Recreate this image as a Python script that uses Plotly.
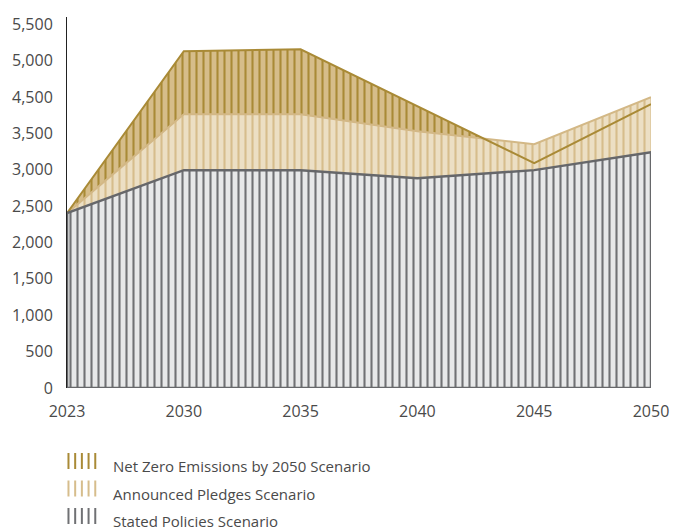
import plotly.graph_objects as go

# ---- data ----
years = ["2023", "2030", "2035", "2040", "2045", "2050"]
nze = [2404, 4629, 4657, 3874, 3091, 3901]      # Net Zero Emissions by 2050 Scenario
aps = [2404, 3764, 3764, 3530, 3352, 3997]      # Announced Pledges Scenario
steps = [2404, 2995, 2995, 2885, 2995, 3242]    # Stated Policies Scenario
tick_vals = [0, 500, 1000, 1500, 2000, 2500, 3000, 3500, 4000, 4500, 5000]
tick_text = ["0", "500", "1,000", "1,500", "2,000", "2,500", "3,000", "3,500", "4,500", "5,000", "5,500"]
series_names = ["Net Zero Emissions by 2050 Scenario", "Announced Pledges Scenario", "Stated Policies Scenario"]

# ---- styles ----
W, H = 681, 530
ML, MR, MT, MB = 67, 21, 17, 142
NZE_FG, NZE_BG = "#a98a36", "#d6bd8a"
APS_FG, APS_BG = "#d6bd8c", "#ecdfc4"
STP_FG, STP_BG = "#707174", "#e7e8e9"
FONT = "Open Sans"
TXT = "#4a4a4a"

fig = go.Figure()

def area(y, fg, bg):
    fig.add_trace(go.Scatter(
        x=years, y=y, mode="lines", line=dict(width=0), fill="tozeroy",
        fillcolor=bg,
        fillpattern=dict(shape="|", size=7, solidity=0.3, fgcolor=fg, bgcolor=bg, fillmode="replace"),
        showlegend=False, hoverinfo="skip"))

area(nze, NZE_FG, NZE_BG)
area(aps, APS_FG, APS_BG)
area(steps, STP_FG, STP_BG)

# outlines
fig.add_trace(go.Scatter(x=years, y=aps, mode="lines", line=dict(color="#d3b886", width=2),
                         showlegend=False, hoverinfo="skip"))
fig.add_trace(go.Scatter(x=years, y=nze, mode="lines", line=dict(color=NZE_FG, width=2),
                         showlegend=False, hoverinfo="skip"))
outline_x = years + [years[-1], years[0], years[0]]
outline_y = steps + [0, 0, steps[0]]
fig.add_trace(go.Scatter(x=outline_x, y=outline_y, mode="lines",
                         line=dict(color="#66676a", width=2.5),
                         showlegend=False, hoverinfo="skip", cliponaxis=False))

# ---- manual legend ----
plot_h = H - MT - MB
plot_w = W - ML - MR
def py(p):
    return (H - MB - p) / plot_h
def px(p):
    return (p - ML) / plot_w

legend_rows = [466, 493.5, 521]
legend_cols = [NZE_FG, APS_FG, STP_FG]
shapes = []
annotations = []
for name, c, yc in zip(series_names, legend_cols, legend_rows):
    for k in range(5):
        x0 = 68.5 + k * 6.8
        shapes.append(dict(type="line", xref="paper", yref="paper",
                           x0=px(x0), x1=px(x0), y0=py(yc - 13), y1=py(yc + 3),
                           line=dict(color=c, width=2)))
    annotations.append(dict(text=name, xref="paper", yref="paper", x=px(112), y=py(yc),
                            xanchor="left", yanchor="middle", showarrow=False,
                            font=dict(family=FONT, size=15, color=TXT)))

fig.update_layout(
    width=W, height=H,
    margin=dict(l=ML, r=MR, t=MT, b=MB),
    paper_bgcolor="white", plot_bgcolor="white",
    shapes=shapes, annotations=annotations,
    font=dict(family=FONT, size=16, color=TXT),
    xaxis=dict(type="category", range=[0, 5], showgrid=False, zeroline=False,
               showline=False, ticks="", ticklabelstandoff=12,
               tickfont=dict(family=FONT, size=16, color=TXT)),
    yaxis=dict(range=[0, 5100], tickvals=tick_vals, ticktext=tick_text,
               showgrid=False, zeroline=False, showline=True, linecolor="#222", linewidth=1,
               ticks="", ticklabelstandoff=10,
               tickfont=dict(family=FONT, size=16, color=TXT)),
    showlegend=False,
)

fig.write_html("out.html")
